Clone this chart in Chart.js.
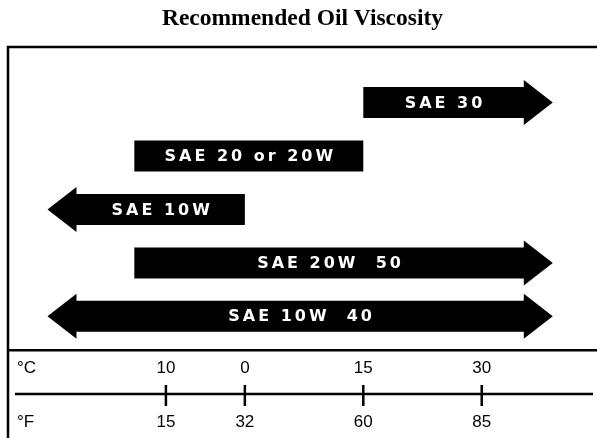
<!DOCTYPE html>
<html>
<head>
<meta charset="utf-8">
<script src="https://cdn.jsdelivr.net/npm/chart.js@4.4.1/dist/chart.umd.min.js"></script>
<style>
  html, body { margin: 0; padding: 0; background: #fff; }
  #wrap { width: 597px; height: 438px; }
</style>
</head>
<body>
<div id="wrap"><canvas id="oilChart"></canvas></div>
<script>
// oil grades, top to bottom, ranges in deg C (tip to tip)
const grades = ['SAE 30', 'SAE 20 or 20W', 'SAE 10W', 'SAE 20W  50', 'SAE 10W  40'];
const rangeFrom = [15, -14, -25, -14, -25];
const rangeTo = [39, 15, 0, 39, 39];
const arrowLeft = [false, false, true, false, true];
const arrowRight = [true, false, false, true, true];

// temperature scale
const tickC = [-10, 0, 15, 30];
const celsiusLabels = ['10', '0', '15', '30'];
const fahrenheitLabels = ['15', '32', '60', '85'];

const arrowPlugin = {
  id: 'arrows',
  afterDatasetsDraw(chart) {
    const ctx = chart.ctx;
    const meta = chart.getDatasetMeta(0);
    const head = 29;
    const flare = 7;
    const spacing = 3;
    ctx.save();
    meta.data.forEach((bar, i) => {
      const p = bar.getProps(['x', 'y', 'base', 'height'], true);
      const left = Math.min(p.x, p.base);
      const right = Math.max(p.x, p.base);
      const top = p.y - p.height / 2;
      const bottom = p.y + p.height / 2;
      const bodyL = arrowLeft[i] ? left + head : left;
      const bodyR = arrowRight[i] ? right - head : right;
      ctx.beginPath();
      ctx.moveTo(bodyL, top);
      ctx.lineTo(bodyR, top);
      if (arrowRight[i]) {
        ctx.lineTo(bodyR, top - flare);
        ctx.lineTo(right, p.y);
        ctx.lineTo(bodyR, bottom + flare);
      }
      ctx.lineTo(bodyR, bottom);
      ctx.lineTo(bodyL, bottom);
      if (arrowLeft[i]) {
        ctx.lineTo(bodyL, bottom + flare);
        ctx.lineTo(left, p.y);
        ctx.lineTo(bodyL, top - flare);
      }
      ctx.closePath();
      ctx.fillStyle = '#000';
      ctx.fill();

      ctx.fillStyle = '#fff';
      ctx.font = 'bold 16px "DejaVu Sans", sans-serif';
      ctx.letterSpacing = spacing + 'px';
      ctx.textAlign = 'center';
      ctx.textBaseline = 'middle';
      ctx.fillText(grades[i], (bodyL + bodyR) / 2 + spacing / 2, p.y + 1);
    });
    ctx.restore();
  }
};

const framePlugin = {
  id: 'frame',
  afterDraw(chart) {
    const { ctx, chartArea } = chart;
    const xs = chart.scales.x;
    ctx.save();
    ctx.strokeStyle = '#000';
    ctx.lineWidth = 2.5;
    ctx.beginPath();
    ctx.moveTo(chartArea.left, chart.height);
    ctx.lineTo(chartArea.left, chartArea.top);
    ctx.lineTo(chart.width, chartArea.top);
    ctx.stroke();

    // middle line with crossing ticks
    const midY = xs.top + 44;
    ctx.beginPath();
    ctx.moveTo(chartArea.left + 7, midY);
    ctx.lineTo(chartArea.right - 4, midY);
    xs.ticks.forEach(t => {
      const px = xs.getPixelForValue(t.value);
      ctx.moveTo(px, midY - 9);
      ctx.lineTo(px, midY + 12);
    });
    ctx.stroke();

    ctx.fillStyle = '#000';
    ctx.font = '17px "Liberation Sans", Arial, sans-serif';
    ctx.textBaseline = 'middle';
    ctx.textAlign = 'left';
    ctx.fillText('°C', chartArea.left + 9, xs.top + 18.5);
    ctx.fillText('°F', chartArea.left + 9, xs.top + 72.5);
    ctx.restore();
  }
};

const data = {
  datasets: [
    {
      data: grades.map((g, i) => ({ x: [rangeFrom[i], rangeTo[i]], y: i })),
      backgroundColor: 'rgba(0,0,0,0)',
      borderWidth: 0,
      barThickness: 31,
    },
  ],
};

const config = {
  type: 'bar',
  data: data,
  plugins: [arrowPlugin, framePlugin],
  options: {
    indexAxis: 'y',
    responsive: true,
    maintainAspectRatio: false,
    animation: false,
    events: [],
    layout: { padding: { left: 8, right: 0, top: 0, bottom: -3 } },
    plugins: {
      legend: { display: false },
      tooltip: { enabled: false },
      title: {
        display: true,
        text: 'Recommended Oil Viscosity',
        color: '#000',
        font: { family: '"Liberation Serif", "Times New Roman", serif', size: 23.5, weight: 'bold' },
        padding: { top: 5, bottom: 13.8 },
      },
    },
    scales: {
      x: {
        type: 'linear',
        min: -30,
        max: 44.6,
        afterBuildTicks: (scale) => {
          scale.ticks = tickC.map(v => ({ value: v }));
        },
        ticks: {
          autoSkip: false,
          maxRotation: 0,
          padding: 5,
          color: '#000',
          font: { family: '"Liberation Sans", Arial, sans-serif', size: 17, lineHeight: 27 / 17 },
          callback: (v, i) => [celsiusLabels[i], '', fahrenheitLabels[i]],
        },
        grid: { display: false, drawTicks: false },
        border: { display: true, color: '#000', width: 2.5 },
      },
      y: {
        type: 'linear',
        reverse: true,
        offset: false,
        min: -1.04,
        max: 4.63,
        display: false,
      },
    },
  },
};

var oilChart = new Chart(document.getElementById('oilChart'), config);
</script>
</body>
</html>
